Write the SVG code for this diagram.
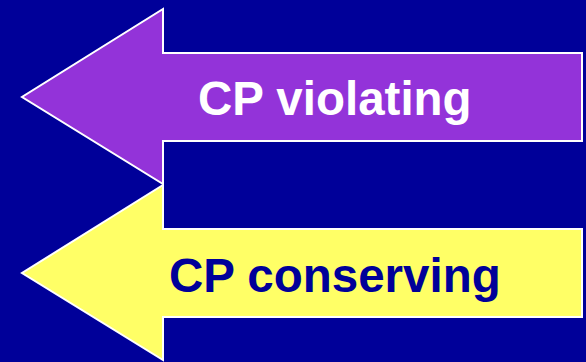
<svg xmlns="http://www.w3.org/2000/svg" width="586" height="362" viewBox="0 0 586 362">
  <style>
    .arrow { stroke: #ffffff; stroke-width: 2; stroke-linejoin: miter; }
    .label { font-family: "Liberation Sans", Arial, sans-serif; font-weight: bold; font-size: 47.5px; }
  </style>
  <rect width="586" height="362" fill="#000099"/>
  <g id="cp-violating">
    <path class="arrow" fill="#9333d9" d="M582 53 L163 53 L163 9 L22 97 L163 184 L163 141 L582 141 Z"/>
    <text class="label" x="198" y="115" fill="#ffffff">CP violating</text>
  </g>
  <g id="cp-conserving">
    <path class="arrow" fill="#ffff66" d="M582 229 L163 229 L163 185 L22 273 L163 360 L163 317 L582 317 Z"/>
    <text class="label" x="169" y="292" fill="#000099">CP conserving</text>
  </g>
  <g id="connectors"/>
</svg>
